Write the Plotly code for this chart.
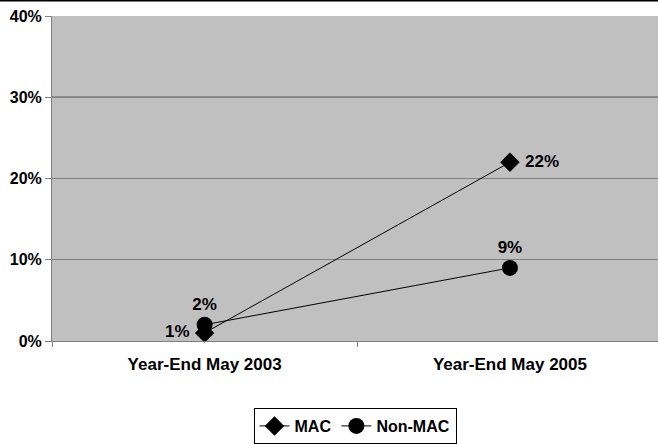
import plotly.graph_objects as go

categories = ["Year-End May 2003", "Year-End May 2005"]
mac = [1, 22]
non_mac = [2, 9]
mac_labels = ["1% ", " 22%"]
non_mac_labels = ["2%", "9%"]
y_ticks = [0, 10, 20, 30, 40]
y_tick_labels = ["0%", "10%", "20%", "30%", "40%"]

FONT = "Liberation Sans, Arial, sans-serif"

fig = go.Figure()
fig.add_trace(go.Scatter(
    x=categories, y=mac, name="MAC", mode="lines+markers+text",
    line=dict(color="black", width=1),
    marker=dict(symbol="diamond", size=15, color="black"),
    text=mac_labels, textposition=["middle left", "middle right"],
    textfont=dict(family=FONT, size=17, color="black", weight="bold"),
    cliponaxis=False,
))
fig.add_trace(go.Scatter(
    x=categories, y=non_mac, name="Non-MAC", mode="lines+markers+text",
    line=dict(color="black", width=1),
    marker=dict(symbol="circle", size=16, color="black"),
    text=non_mac_labels, textposition=["top center", "top center"],
    textfont=dict(family=FONT, size=17, color="black", weight="bold"),
    cliponaxis=False,
))

fig.add_shape(type="line", xref="paper", yref="y", x0=0, x1=1, y0=30, y1=30,
              line=dict(color="black", width=1), layer="between")
fig.add_shape(type="line", xref="paper", yref="paper", x0=-0.1, x1=1.01,
              y0=1.048, y1=1.048, line=dict(color="black", width=2))

fig.update_layout(
    width=658, height=444,
    margin=dict(l=52, r=0, t=16, b=103),
    paper_bgcolor="white", plot_bgcolor="#C0C0C0",
    font=dict(family=FONT, size=16, color="black"),
    showlegend=True,
    legend=dict(orientation="h", x=0.5, xanchor="center", y=-0.317, yanchor="bottom",
                bordercolor="black", borderwidth=1, bgcolor="white",
                font=dict(family=FONT, size=16, color="black", weight="bold"),
                tracegroupgap=0),
)
fig.update_xaxes(
    type="category", range=[-0.5, 1.485],
    showline=True, linecolor="#808080", linewidth=1,
    ticks="outside", ticklen=5, tickcolor="#808080", tickson="boundaries",
    ticklabelstandoff=8,
    showgrid=False,
    tickfont=dict(family=FONT, size=17, color="black", weight="bold"),
)
fig.update_yaxes(
    range=[0, 40], tickvals=y_ticks, ticktext=y_tick_labels,
    showline=True, linecolor="#808080", linewidth=1,
    ticks="outside", ticklen=6, tickcolor="#808080",
    showgrid=True, gridcolor="#808080", gridwidth=1, zeroline=False,
    tickfont=dict(family=FONT, size=16, color="black", weight="bold"),
)

fig.write_html("out.html")
